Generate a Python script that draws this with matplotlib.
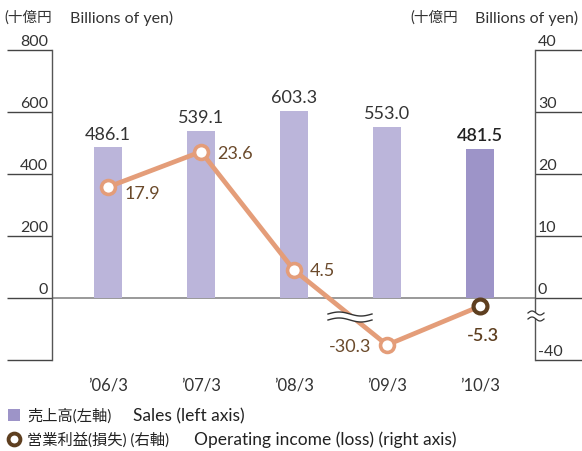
import numpy as np
import matplotlib
matplotlib.use("Agg")
import matplotlib.pyplot as plt
import matplotlib.transforms as mtransforms
from matplotlib.patches import Rectangle
from matplotlib.lines import Line2D

plt.rcParams['font.family'] = ['Lato', 'Noto Sans CJK JP', 'DejaVu Sans']

# ---- data ----
categories = ["\u201906/3", "\u201907/3", "\u201908/3", "\u201909/3", "\u201910/3"]
sales = [486.1, 539.1, 603.3, 553.0, 481.5]
income = [17.9, 23.6, 4.5, -30.3, -5.3]
left_ticks = [800, 600, 400, 200, 0]
left_bottom = -200
right_ticks = [40, 30, 20, 10, 0, -40]
unit_jp = "(十億円"
unit_en = "Billions of yen)"
legend_jp = ["売上高(左軸)", "営業利益(損失) (右軸)"]
legend_en = ["Sales (left axis)", "Operating income (loss) (right axis)"]

W, H = 582, 452
fig = plt.figure(figsize=(W / 100, H / 100), dpi=100)
fig.patch.set_facecolor("white")

# axes box in pixels: x 52..535, y 51..361
L, R, T, B = 52, 535, 51, 361
ax = fig.add_axes([L / W, 1 - B / H, (R - L) / W, (B - T) / H])
ax2 = ax.twinx()

x = np.arange(len(categories))
ax.set_xlim(-(108 - L) / 93, len(categories) - 1 + (R - 480) / 93)
ax.set_ylim(left_bottom, left_ticks[0])

bar_light = "#bbb5da"
bar_dark = "#9d94c8"
bar_colors = [bar_light] * 4 + [bar_dark]
ax.bar(x, sales, width=0.30, color=bar_colors, zorder=2)

# right axis with compressed negative region
k = 0.25
def fwd(y):
    y = np.asarray(y, dtype=float)
    return np.where(y >= 0, y, y * k)
def inv(y):
    y = np.asarray(y, dtype=float)
    return np.where(y >= 0, y, y / k)
ax2.set_yscale('function', functions=(fwd, inv))
ax2.set_ylim(right_ticks[-1], right_ticks[0])

orange = "#e49d79"
brown = "#5e3f20"
label_brown = "#6b4a2b"
ax2.plot(x, income, color=orange, lw=3.4, zorder=3, solid_capstyle='butt')
ax2.plot(x[:4], income[:4], 'o', ms=10, mfc='white', mec=orange, mew=2.6, zorder=4)
ax2.plot(x[4:], income[4:], 'o', ms=10, mfc='white', mec=brown, mew=3.0, zorder=4)

# spines
for s in ['top', 'bottom', 'right']:
    ax.spines[s].set_visible(False)
for s in ['top', 'bottom', 'left']:
    ax2.spines[s].set_visible(False)
axis_col = "#555555"
ax.spines['left'].set_color(axis_col)
ax.spines['left'].set_linewidth(1.0)
ax2.spines['right'].set_color(axis_col)
ax2.spines['right'].set_linewidth(1.0)

tick_len = 45 * 72 / 100
ax.set_yticks(left_ticks + [left_bottom])
ax.tick_params(axis='y', length=tick_len, width=1.0, color="#444444", labelleft=False)
ax2.set_yticks(right_ticks)
ax2.yaxis.set_minor_locator(matplotlib.ticker.NullLocator())
ax2.tick_params(axis='y', length=tick_len + 2, width=1.0, color="#444444", labelright=False)

# zero line across
ax.axhline(0, color="#888888", lw=1.2, zorder=1)

# x tick labels
ax.set_xticks(x)
ax.set_xticklabels(categories, fontsize=12, color="#333333")
ax.tick_params(axis='x', length=0, pad=12)

# y tick labels (above tick lines)
ltrans = mtransforms.blended_transform_factory(fig.transFigure, ax.transData)
ltrans = mtransforms.offset_copy(ltrans, fig=fig, y=2, units='dots')
for v in left_ticks:
    ax.text(48 / W, v, f"{v}", transform=ltrans, ha='right', va='bottom',
            fontsize=11.5, color="#333333")
rtrans = mtransforms.blended_transform_factory(fig.transFigure, ax2.transData)
rtrans = mtransforms.offset_copy(rtrans, fig=fig, y=2, units='dots')
for v in right_ticks:
    ax2.text(538 / W, v, f"{v}", transform=rtrans, ha='left', va='bottom',
             fontsize=11.5, color="#333333")

# pixel transform (top-left origin) for layout text / decorations
pix = mtransforms.Affine2D().scale(1 / W, -1 / H).translate(0, 1) + fig.transFigure

# headers
for xj, xe in [(4, 70), (410, 475)]:
    fig.text(xj, 18, unit_jp, transform=pix, ha='left', va='center',
             fontsize=10.5, color="#333333")
    fig.text(xe, 18, unit_en, transform=pix, ha='left', va='center',
             fontsize=11.5, color="#333333")

# bar value labels
for i, v in enumerate(sales):
    last = i == len(sales) - 1
    ax.annotate(f"{v:.1f}", (x[i], v), xytext=(0, 4), textcoords='offset points',
                ha='center', va='bottom', fontsize=13,
                color="#222222" if last else "#333333",
                fontweight='semibold' if last else 'normal', zorder=5)

# line value labels
offsets = [(12, -4, 'left', 'center'), (12, -1, 'left', 'center'), (11, 0, 'left', 'center'),
           (-11, -1, 'right', 'center'), (2, -15, 'center', 'top')]
for i, v in enumerate(income):
    dx, dy, ha, va = offsets[i]
    last = i == len(income) - 1
    ax2.annotate(f"{v:.1f}", (x[i], v), xytext=(dx, dy), textcoords='offset points',
                 ha=ha, va=va, fontsize=13, color=brown if last else label_brown,
                 fontweight='semibold' if last else 'normal', zorder=6)

# break marks (decoration)
def wave_break(cx, cy, half_w, gap, amp, lw=1.0):
    t = np.linspace(-1, 1, 60)
    xs = cx + t * half_w
    yw = amp * np.sin(np.pi * t)
    up = cy - gap / 2 + yw
    lo = cy + gap / 2 + yw
    fig.patches.append(plt.Polygon(np.column_stack([np.r_[xs, xs[::-1]], np.r_[up, lo[::-1]]]),
                                   closed=True, facecolor='white', edgecolor='none',
                                   transform=pix, figure=fig, zorder=10))
    fig.lines.append(Line2D(xs, up, color="#333333", lw=lw, transform=pix, figure=fig, zorder=11))
    fig.lines.append(Line2D(xs, lo, color="#333333", lw=lw, transform=pix, figure=fig, zorder=11))

wave_break(350, 318, 22, 6, 2.0, lw=1.0)
wave_break(536, 317, 8, 6, 2.0, lw=0.9)

# legend (manual)
fig.patches.append(Rectangle((8, 410), 12, 12, facecolor=bar_dark, edgecolor='none',
                             transform=pix, figure=fig))
fig.lines.append(Line2D([14], [440], marker='o', ls='none', ms=8.5, mfc='white', mec=brown,
                        mew=2.8, transform=pix, figure=fig))
for (yy, xe), jp, en in zip([(416, 133), (440, 194)], legend_jp, legend_en):
    fig.text(27, yy, jp, transform=pix, ha='left', va='center', fontsize=11, color="#222222")
    fig.text(xe, yy, en, transform=pix, ha='left', va='center', fontsize=12.5, color="#222222")

fig.savefig("out.png", dpi=100, facecolor='white')
